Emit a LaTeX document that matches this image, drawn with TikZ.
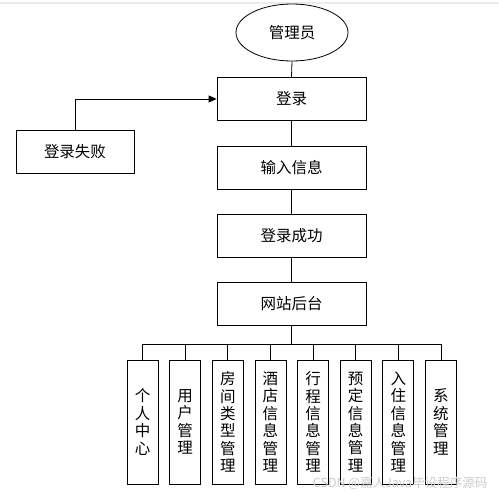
\documentclass[tikz,border=0pt]{standalone}
\usepackage{fontspec}
\setmainfont{Noto Sans CJK SC}
\usetikzlibrary{arrows.meta,shapes.geometric,positioning}

\begin{document}
\begin{tikzpicture}[x=1pt,y=-1pt,line width=0.8pt,
  every node/.style={font=\fontsize{15.5}{17.4}\selectfont},
  box/.style={draw,rectangle,minimum width=149pt,minimum height=43pt,inner sep=0pt},
  leaf/.style={draw,rectangle,minimum width=31pt,minimum height=124pt,inner sep=0pt,align=center}]
\useasboundingbox (0,0) rectangle (499,495);
\draw[gray!15,line width=1.2pt] (0,3)--(499,3);

\node[draw,ellipse,minimum width=112pt,minimum height=57pt,inner sep=0pt] (admin) at (292,32.5) {管理员};
\node[box] (login) at (291.5,99) {登录};
\node[box] (input) at (291.5,167.5) {输入信息};
\node[box] (ok) at (291.5,235.5) {登录成功};
\node[box] (site) at (291.5,304) {网站后台};
\node[box,minimum width=118pt] (fail) at (75,151.5) {登录失败};
\coordinate (hub) at (291.5,344);

\foreach \txt [count=\i] in {个\\人\\中\\心, 用\\户\\管\\理, 房\\间\\类\\型\\管\\理, 酒\\店\\信\\息\\管\\理,
  行\\程\\信\\息\\管\\理, 预\\定\\信\\息\\管\\理, 入\\住\\信\\息\\管\\理, 系\\统\\管\\理}
  \node[leaf] (m\i) at ({142.5+42.64*(\i-1)},422) {\txt};

\draw (admin.south)--(login.north);
\draw (login.south)--(input.north);
\draw (input.south)--(ok.north);
\draw (ok.south)--(site.north);
\draw (site.south)--(hub);
\foreach \i in {1,...,8}
  \draw (hub) -| (m\i.north);
\draw[-{Triangle[length=8pt,width=7pt]}] (fail.north) |- (login.west);

\node[text=gray!40,font=\fontsize{12.5}{14}\selectfont,anchor=east] (mark) at (491,483) {CSDN @嘉人Java毕设程序源码};
\end{tikzpicture}
\end{document}
